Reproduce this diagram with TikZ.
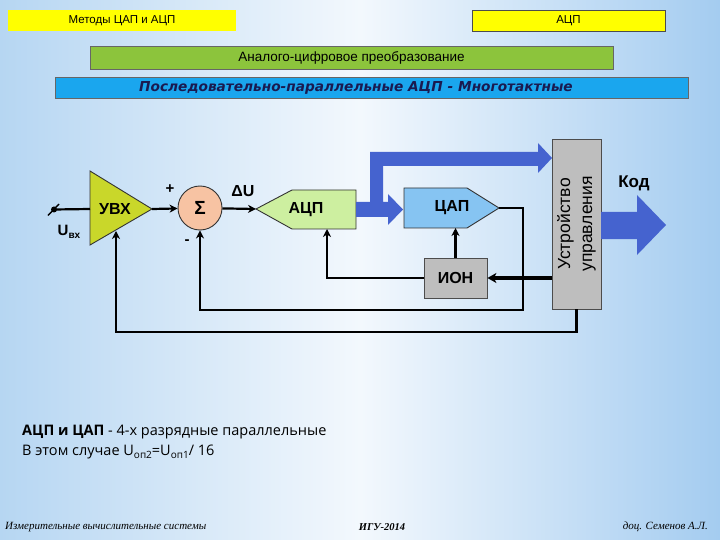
\documentclass[tikz,border=0pt]{standalone}
\usepackage{fontspec}
\setmainfont{Liberation Sans}
\newfontfamily\djv{DejaVu Sans}
\newfontfamily\osans{Open Sans}
\newfontfamily\lserif{Liberation Serif}
\usetikzlibrary{arrows.meta}
\definecolor{bgl}{HTML}{B6D6F2}
\definecolor{bgm}{HTML}{F3F8FD}
\definecolor{bgr}{HTML}{A4CCF0}
\definecolor{yel}{HTML}{FFFF00}
\definecolor{grn}{HTML}{8CC43C}
\definecolor{cyanbar}{HTML}{1AA6EE}
\definecolor{navy}{HTML}{1A1A50}
\definecolor{uvx}{HTML}{C9D72A}
\definecolor{sumc}{HTML}{F7C3A3}
\definecolor{adc}{HTML}{CDEFA0}
\definecolor{dac}{HTML}{86C4F2}
\definecolor{gray1}{HTML}{BEBEBE}
\definecolor{bus}{HTML}{4563CF}
\begin{document}
\begin{tikzpicture}[x=1pt,y=-1pt,
  conn/.style={line width=2.2pt,-{Stealth[length=8pt,width=8pt,inset=2.5pt]}},
  ln/.style={line width=2.2pt},
  lbl/.style={font=\bfseries\fontsize{16}{16}\selectfont},
  blk/.style={draw=black!80,line width=0.9pt}]
\shade[left color=bgl, right color=bgr, middle color=bgm] (0,0) rectangle (720,540);
\useasboundingbox (0,0) rectangle (720,540);
% header
\node[fill=yel, minimum width=228pt, minimum height=21pt, inner sep=0, font=\fontsize{11.5}{11.5}\selectfont] (meth) at (122,20.5) {Методы ЦАП и АЦП};
\node[fill=yel, draw=black!70, line width=0.8pt, minimum width=193pt, minimum height=21pt, inner sep=0, font=\fontsize{11.5}{11.5}\selectfont] (top) at (568.5,20.5) {АЦП};
\node[fill=grn, draw=black!60, line width=0.8pt, minimum width=523pt, minimum height=23pt, inner sep=0, font=\fontsize{13.5}{13.5}\selectfont] (grnbar) at (351.5,57.5) {Аналого-цифровое преобразование};
\node[fill=cyanbar, draw=black!60, line width=0.8pt, minimum width=633pt, minimum height=21pt, inner sep=0] (cyan) at (371.5,87.5) {};
\node[font=\djv\bfseries\itshape\fontsize{13.7}{13.7}\selectfont, text=navy, inner sep=0] (cyant) at (356,88) {Последовательно-параллельные АЦП - Многотактные};
% UVX
\draw[blk, fill=uvx] (90,171) -- (152,209) -- (90,245) -- cycle;
\node[lbl] (uvxt) at (115,209) {УВХ};
\coordinate (uvxo) at (152,209);
\coordinate (uvxin) at (90,209);
\coordinate (uvxb) at (116,231);
\coordinate (inp) at (54,209.5);
\draw[ln] (inp) -- (uvxin);
\fill (inp) circle (3pt);
\draw[line width=1.4pt] (48,215.5) -- (59,204);
\node[font=\bfseries\fontsize{15}{15}\selectfont, inner sep=0] (uin) at (69,232) {U\raisebox{-3pt}{\fontsize{10}{10}\selectfont вх}};
% sum
\node[circle, blk, fill=sumc, minimum size=44pt, inner sep=0, font=\bfseries\fontsize{19}{19}\selectfont] (sum) at (200,208) {Σ};
\draw[conn] (uvxo) -- (sum);
\node[font=\bfseries\fontsize{15}{15}\selectfont] (plus) at (170,189) {+};
\node[font=\bfseries\fontsize{15}{15}\selectfont] (minus) at (187,242) {-};
\node[lbl] (du) at (243,191) {ΔU};
% ADC
\draw[blk, fill=adc] (256,209) -- (292,190) -- (356,190) -- (356,229) -- (292,229) -- cycle;
\node[lbl] (adct) at (306,210) {АЦП};
\coordinate (adcin) at (256,209);
\coordinate (adcb) at (327,229);
\draw[conn] (sum) -- (adcin);
% bus
\fill[bus] (356,202) -- (370,202) -- (370,152) -- (538,152) -- (538,143) -- (552,158) -- (538,173) -- (538,166) -- (383,166) -- (383,202) -- (388,202) -- (388,194) -- (403,209.5) -- (388,225) -- (388,217) -- (356,217) -- cycle;
% DAC
\draw[blk, fill=dac] (404,188) -- (467,188) -- (499,208) -- (467,228) -- (404,228) -- cycle;
\node[lbl] (dact) at (452,208) {ЦАП};
\coordinate (dacout) at (499,208);
\coordinate (dacb) at (455.5,228);
% ION
\node[draw=black!70, line width=0.8pt, fill=gray1, minimum width=63pt, minimum height=40pt, inner sep=0, lbl] (ion) at (455.5,278) {ИОН};
\draw[conn] (ion.north) -- (dacb);
\draw[conn] (ion.west) -| (adcb);
% control unit
\node[draw=black!70, line width=0.8pt, fill=gray1, minimum width=49pt, minimum height=170pt, inner sep=0] (cu) at (576.5,224) {};
\node[rotate=90, align=center, font=\fontsize{17.5}{22}\selectfont] (cut) at (cu.center) {Устройство\\управления};
\draw[line width=3.2pt, -{Stealth[length=9pt,width=10pt,inset=2.5pt]}] (cu.west |- ion) -- (ion.east);
% feedback loops
\draw[conn] (dacout) -- (523,208) -- (523,310) -- (200,310) -- (sum.south);
\draw[conn] (cu.south) -- (576.5,332) -- (116,332) -- (uvxb);
% code arrow
\fill[bus] (601,212) -- (637,212) -- (637,195) -- (666,225) -- (637,255) -- (637,239) -- (601,239) -- cycle;
\node[font=\bfseries\fontsize{17}{17}\selectfont] (kod) at (634,183) {Код};
% bottom text
\node[anchor=west, font=\osans\fontsize{14.5}{14.5}\selectfont, inner sep=0] (t1) at (22,432) {\textbf{АЦП и ЦАП} - 4-х разрядные параллельные};
\node[anchor=west, font=\osans\fontsize{14.5}{14.5}\selectfont, inner sep=0] (t2) at (22,452) {В этом случае U\raisebox{-2.5pt}{\fontsize{10}{10}\selectfont оп2}=U\raisebox{-2.5pt}{\fontsize{10}{10}\selectfont оп1}/ 16};
% footer
\node[anchor=west, font=\lserif\itshape\fontsize{11}{11}\selectfont, inner sep=0] (f1) at (5,527) {Измерительные вычислительные системы};
\node[font=\lserif\bfseries\itshape\fontsize{10.5}{10.5}\selectfont, inner sep=0] (f2) at (382,527) {ИГУ-2014};
\node[anchor=east, font=\lserif\itshape\fontsize{11}{11}\selectfont, inner sep=0] (f3) at (708,527) {доц. Семенов А.Л.};
\end{tikzpicture}
\end{document}
